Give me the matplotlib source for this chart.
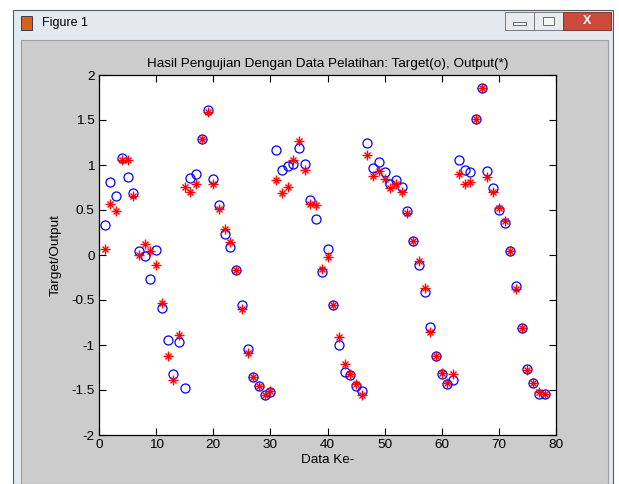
import numpy as np
import matplotlib
matplotlib.use("Agg")
import matplotlib.pyplot as plt
from matplotlib.patches import Rectangle

plt.rcParams["font.family"] = ["Liberation Sans", "DejaVu Sans"]

# data (index 1..78)
data_ke = np.arange(1, 79)
target = [0.33, 0.81, 0.66, 1.08, 0.87, 0.685, 0.04, -0.01, -0.27, 0.05,
          -0.59, -0.94, -1.32, -0.97, -1.48, 0.85, 0.90, 1.29, 1.61, 0.84,
          0.55, 0.23, 0.09, -0.17, -0.55, -1.04, -1.36, -1.46, -1.56, -1.52,
          1.17, 0.94, 0.99, 1.01, 1.19, 1.01, 0.61, 0.40, -0.19, 0.07,
          -0.56, -1.00, -1.30, -1.33, -1.46, -1.51, 1.24, 0.97, 1.03, 0.92,
          0.79, 0.83, 0.76, 0.49, 0.16, -0.11, -0.41, -0.80, -1.12, -1.32,
          -1.43, -1.39, 1.06, 0.94, 0.92, 1.51, 1.85, 0.93, 0.74, 0.50,
          0.36, 0.04, -0.34, -0.81, -1.27, -1.42, -1.54, -1.54]
output = [0.07, 0.57, 0.49, 1.05, 1.06, 0.66, 0.00, 0.12, 0.04, -0.11,
          -0.53, -1.12, -1.39, -0.89, 0.76, 0.70, 0.79, 1.29, 1.59, 0.79,
          0.51, 0.29, 0.14, -0.17, -0.60, -1.09, -1.36, -1.46, -1.55, -1.51,
          0.83, 0.69, 0.75, 1.06, 1.27, 0.94, 0.57, 0.55, -0.16, -0.02,
          -0.56, -0.91, -1.21, -1.32, -1.43, -1.56, 1.11, 0.88, 0.93, 0.84,
          0.74, 0.79, 0.70, 0.47, 0.16, -0.07, -0.37, -0.85, -1.12, -1.31,
          -1.42, -1.32, 0.90, 0.79, 0.81, 1.51, 1.85, 0.87, 0.70, 0.52,
          0.38, 0.04, -0.38, -0.81, -1.28, -1.42, -1.52, -1.54]

xticks = [0, 10, 20, 30, 40, 50, 60, 70, 80]
yticks = [-2, -1.5, -1, -0.5, 0, 0.5, 1, 1.5, 2]
ytick_labels = ["-2", "-1.5", "-1", "-0.5", "0", "0.5", "1", "1.5", "2"]

W, H = 619, 484
fig = plt.figure(figsize=(W / 100, H / 100), dpi=100, facecolor="white")


def px_rect(x0, y0, x1, y1, **kw):
    # rectangle given in screen pixels (top-left origin), kept behind the axes
    r = Rectangle((x0 / W, 1 - y1 / H), (x1 - x0) / W, (y1 - y0) / H,
                  transform=fig.transFigure, zorder=-10, **kw)
    fig.patches.append(r)
    return r


# window chrome
px_rect(13, 10, 613, 484, facecolor="#e4e9ef", edgecolor="#5a5a5a", lw=0.8)
px_rect(21, 40, 608, 484, facecolor="#cccccc", edgecolor="#a0a0a0", lw=0.8)
px_rect(505, 12, 534, 30, facecolor="#e8ecf1", edgecolor="#7a7a7a", lw=0.7)
px_rect(534, 12, 563, 30, facecolor="#e8ecf1", edgecolor="#7a7a7a", lw=0.7)
px_rect(563, 12, 611, 30, facecolor="#cc4b3c", edgecolor="#7a3a30", lw=0.7)
px_rect(513, 22, 526, 25, facecolor="#f4f4f4", edgecolor="#555555", lw=0.6)
px_rect(543, 17, 554, 25, facecolor="#f4f4f4", edgecolor="#555555", lw=0.6)
fig.text(587 / W, 1 - 21 / H, "X", ha="center", va="center",
         fontsize=9, fontweight="bold", color="white")
px_rect(21, 16, 32, 30, facecolor="#d4641c", edgecolor="#1f2a44", lw=0.6)
fig.text(42 / W, 1 - 23 / H, "Figure 1", ha="left", va="center",
         fontsize=9, color="black")

ax = fig.add_axes([99 / W, 1 - 435 / H, (556 - 99) / W, (435 - 75) / H])
ax.set_facecolor("white")

ax.plot(data_ke, target, linestyle="none", marker="o", markersize=6.5,
        markerfacecolor="none", markeredgecolor="#0000ff", markeredgewidth=0.9)
ax.plot(data_ke, output, linestyle="none", marker="+", markersize=6.5,
        color="#ff0000", markeredgewidth=1.0)
ax.plot(data_ke, output, linestyle="none", marker="x", markersize=4.6,
        color="#ff0000", markeredgewidth=1.0)

ax.set_xlim(0, 80)
ax.set_ylim(-2, 2)
ax.set_xticks(xticks)
ax.set_yticks(yticks)
ax.set_yticklabels(ytick_labels)
ax.tick_params(direction="in", length=5, width=0.8, top=True, right=True,
               labelsize=9.7, pad=3, colors="black")
for s in ax.spines.values():
    s.set_linewidth(0.9)

ax.set_title("Hasil Pengujian Dengan Data Pelatihan: Target(o), Output(*)",
             fontsize=9.7, pad=6)
ax.set_xlabel("Data Ke-", fontsize=9.7, labelpad=2)
ax.set_ylabel("Target/Output", fontsize=9.7, labelpad=7)

fig.savefig("out.png", dpi=100, facecolor=fig.get_facecolor())
